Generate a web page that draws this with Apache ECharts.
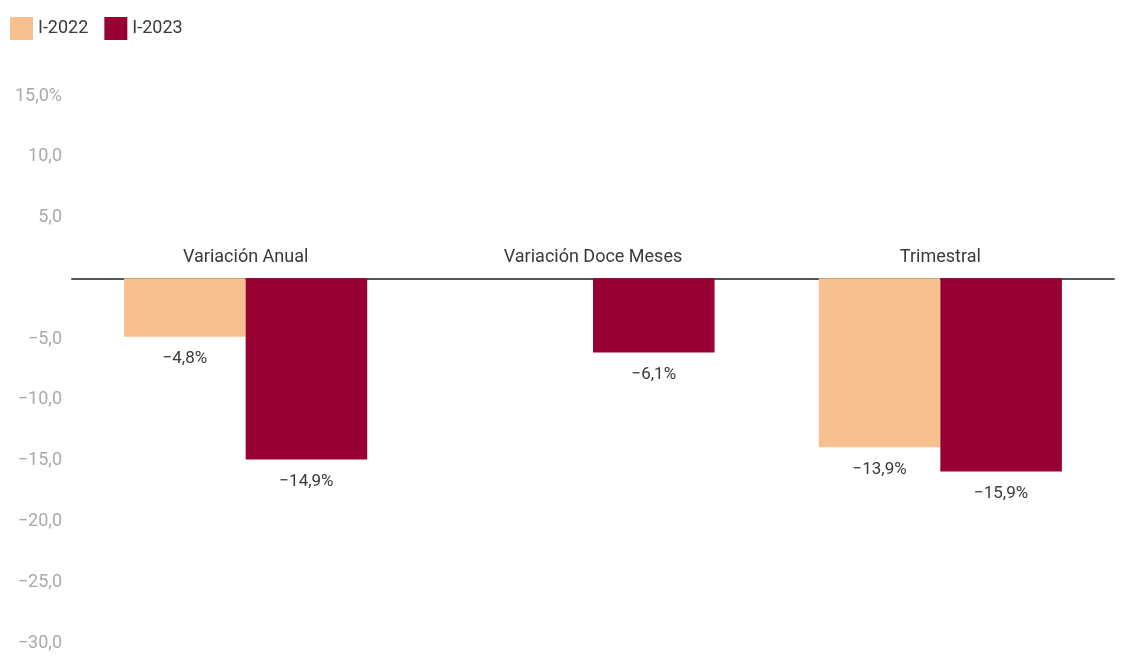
<!DOCTYPE html>
<html>
<head>
<meta charset="utf-8">
<script src="https://cdn.jsdelivr.net/npm/echarts@6/dist/echarts.min.js"></script>
<style>
  html, body { margin: 0; padding: 0; background: #ffffff; }
  #chart { width: 1124px; height: 657px; }
</style>
</head>
<body>
<div id="chart"></div>
<script>
// data
var categories = ['Variación Anual', 'Variación Doce Meses', 'Trimestral'];
var seriesNames = ['I-2022', 'I-2023'];
var values2022 = [-4.8, null, -13.9];
var values2023 = [-14.9, -6.1, -15.9];
var colors = ['#F9C08F', '#990033'];

var yMin = -30, yMax = 15;
var gridTop = 96, gridBottom = 14;
var chartH = 657;

function fmtNum(v) {
	var s = Math.abs(v).toFixed(1).replace('.', ',');
	return (v < 0 ? '\u2212' : '') + s;
}

var myChart = echarts.init(document.getElementById('chart'));

// move the category axis up to the zero line (labels sit above it)
var plotH = chartH - gridTop - gridBottom;
var zeroOffset = -plotH * (0 - yMin) / (yMax - yMin);

var labelStyle = {
	show: true,
	position: 'bottom',
	distance: 14,
	color: '#3a3a3a',
	fontFamily: 'Roboto',
	fontSize: 17,
	formatter: function (p) { return fmtNum(p.value) + '%'; }
};

var option = {
	color: colors,
	textStyle: { fontFamily: 'Roboto' },
	legend: {
		left: 5,
		top: 12,
		itemWidth: 23,
		itemHeight: 23,
		itemGap: 16,
		icon: 'rect',
		textStyle: { color: '#3a3a3a', fontSize: 18, fontFamily: 'Roboto' },
		data: seriesNames
	},
	grid: { left: 72, right: 10, top: gridTop, bottom: gridBottom, containLabel: false },
	xAxis: {
		type: 'category',
		data: categories,
		position: 'bottom',
		offset: zeroOffset,
		axisLine: { onZero: false, lineStyle: { color: '#555', width: 2 } },
		axisTick: { show: false },
		axisLabel: {
			inside: true,
			margin: 12,
			color: '#3a3a3a',
			fontSize: 18,
			fontFamily: 'Roboto'
		}
	},
	yAxis: {
		type: 'value',
		min: yMin,
		max: yMax,
		interval: 5,
		axisLine: { show: false },
		axisTick: { show: false },
		splitLine: { show: false },
		axisLabel: {
			margin: 10,
			color: '#aaa',
			fontSize: 18,
			fontFamily: 'Roboto',
			formatter: function (v) {
				if (v === 0) return '';
				if (v === yMax) return fmtNum(v) + '%';
				return fmtNum(v);
			}
		}
	},
	series: [
		{
			name: seriesNames[0],
			type: 'bar',
			data: values2022,
			barGap: '0%',
			barCategoryGap: '30%',
			label: labelStyle
		},
		{
			name: seriesNames[1],
			type: 'bar',
			data: values2023,
			barGap: '0%',
			barCategoryGap: '30%',
			label: labelStyle
		}
	]
};

myChart.setOption(option);
</script>
</body>
</html>
